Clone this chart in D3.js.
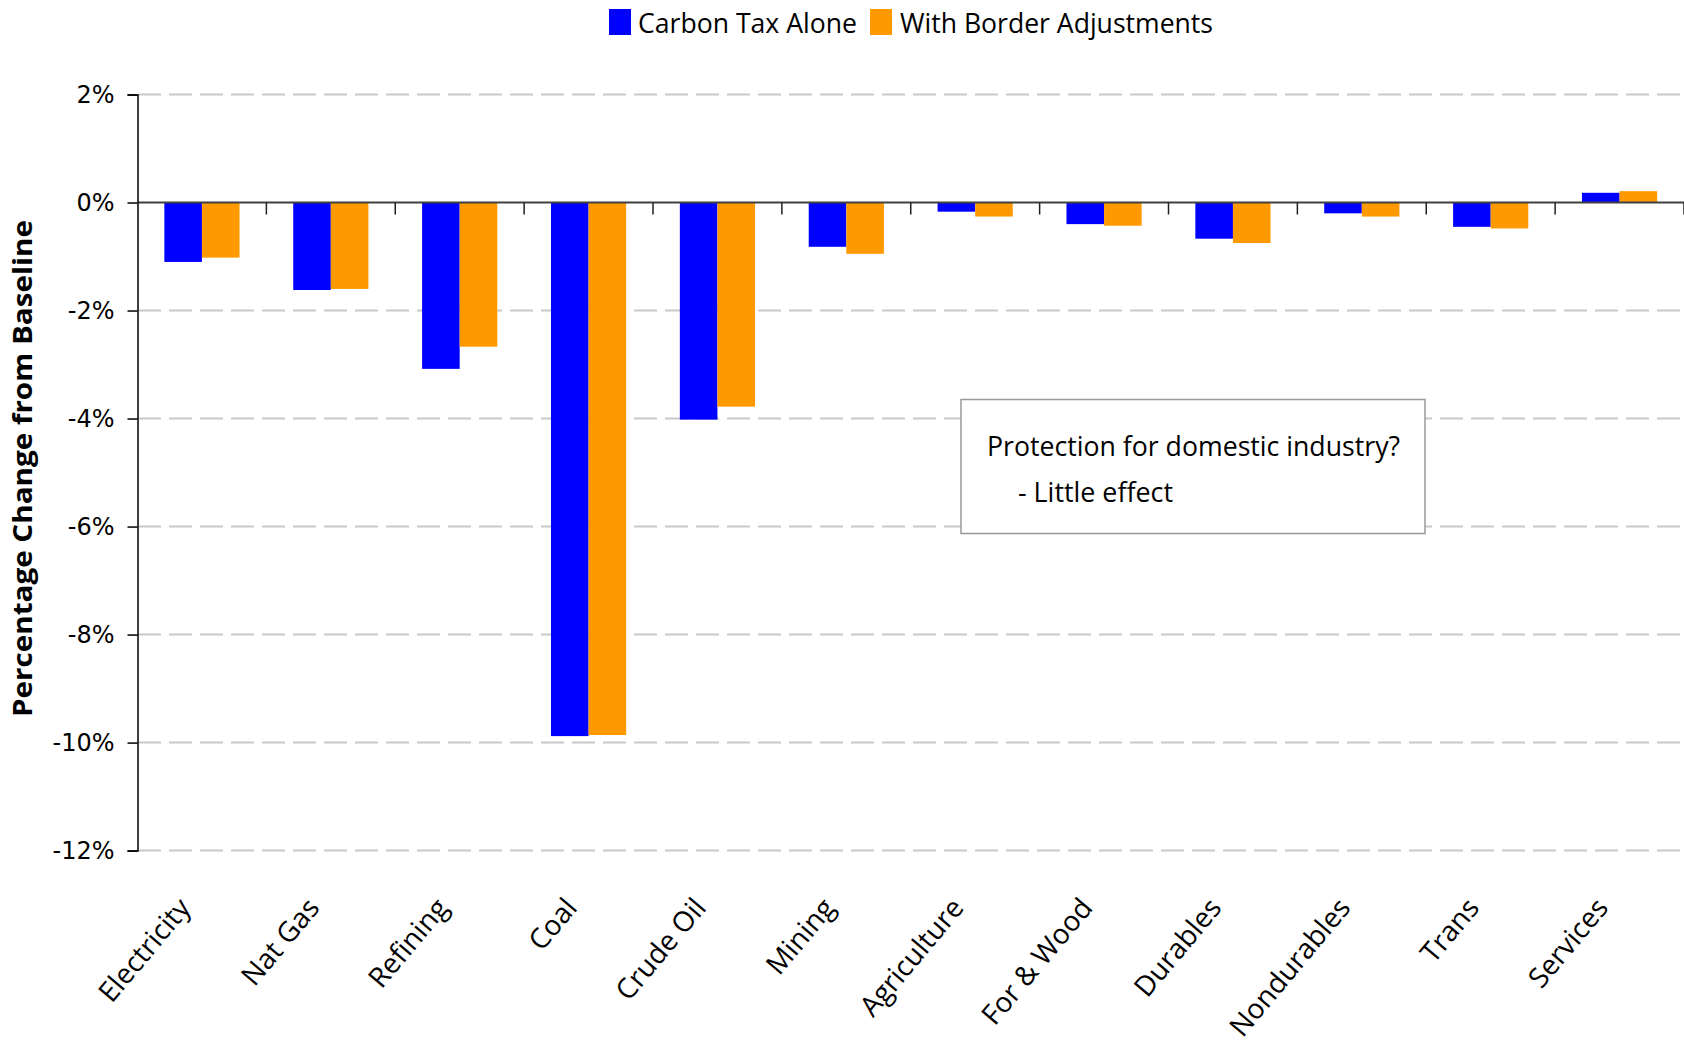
<!DOCTYPE html>
<html>
<head>
<meta charset="utf-8">
<script src="https://cdn.jsdelivr.net/npm/d3@7"></script>
<style>
  html, body { margin: 0; padding: 0; background: #ffffff; }
  svg { display: block; }
</style>
</head>
<body>
<svg id="chart" width="1684" height="1043"></svg>
<script>
const categories = ["Electricity", "Nat Gas", "Refining", "Coal", "Crude Oil", "Mining",
  "Agriculture", "For & Wood", "Durables", "Nondurables", "Trans", "Services"];
const seriesNames = ["Carbon Tax Alone", "With Border Adjustments"];
const carbonTaxAlone = [-1.10, -1.62, -3.08, -9.88, -4.02, -0.82, -0.17, -0.40, -0.67, -0.20, -0.45, 0.18];
const withBorderAdj = [-1.02, -1.60, -2.67, -9.86, -3.78, -0.95, -0.26, -0.43, -0.75, -0.26, -0.48, 0.21];
const yTickValues = [2, 0, -2, -4, -6, -8, -10, -12];
const colors = ["#0000ff", "#ff9900"];
const yTitle = "Percentage Change from Baseline";
const noteLines = ["Protection for domestic industry?", "- Little effect"];

const svg = d3.select("#chart");
const FONT = "'Open Sans', 'DejaVu Sans', sans-serif";

const x = d3.scaleBand().domain(categories).range([137.5, 1684]).paddingInner(0).paddingOuter(0);
const x1 = d3.scaleBand().domain(seriesNames).range([0, x.bandwidth()]).paddingInner(0).paddingOuter(0.714);
const y = d3.scaleLinear().domain([-12, 2]).range([850.6, 94.5]);

// gridlines
svg.append("g").selectAll("line").data(yTickValues.filter(d => d !== 0)).join("line")
  .attr("x1", 138).attr("x2", 1684)
  .attr("y1", d => y(d)).attr("y2", d => y(d))
  .attr("stroke", "#c8c8c8").attr("stroke-width", 2)
  .attr("stroke-dasharray", "23,8");

// bars
const rows = categories.map((c, i) => ({ c, vals: [carbonTaxAlone[i], withBorderAdj[i]] }));
const g = svg.append("g");
rows.forEach(r => {
  r.vals.forEach((v, j) => {
    g.append("rect")
      .attr("x", x(r.c) + x1(seriesNames[j]))
      .attr("width", x1.bandwidth())
      .attr("y", y(Math.max(0, v)))
      .attr("height", Math.abs(y(v) - y(0)))
      .attr("fill", colors[j]);
  });
});

// zero line
svg.append("line").attr("x1", 138).attr("x2", 1684).attr("y1", y(0)).attr("y2", y(0))
  .attr("stroke", "#404040").attr("stroke-width", 2);
// category ticks
svg.append("g").selectAll("line").data(categories).join("line")
  .attr("x1", d => x(d) + x.step()).attr("x2", d => x(d) + x.step())
  .attr("y1", y(0)).attr("y2", y(0) + 12)
  .attr("stroke", "#202020").attr("stroke-width", 1.5);

// y axis
const yAxis = d3.axisLeft(y).tickValues(yTickValues).tickFormat(d => d + "%").tickSize(10).tickPadding(13);
const ya = svg.append("g").attr("transform", "translate(137.5,0)").call(yAxis);
ya.select(".domain").attr("stroke", "#000").attr("stroke-width", 1.5);
ya.selectAll(".tick line").attr("stroke", "#000").attr("stroke-width", 1.5);
ya.selectAll(".tick text").attr("font-family", "'DejaVu Sans', sans-serif").attr("font-size", 24).attr("fill", "#000");

// y title
svg.append("text")
  .attr("transform", `translate(32,${(220 + 717) / 2}) rotate(-90)`)
  .attr("text-anchor", "middle")
  .attr("font-family", FONT).attr("font-weight", "bold").attr("font-size", 27)
  .attr("textLength", 497).attr("lengthAdjust", "spacingAndGlyphs")
  .attr("fill", "#000")
  .text(yTitle);

// category labels
svg.append("g").selectAll("text").data(categories).join("text")
  .attr("transform", d => `translate(${x(d) + x.bandwidth() / 2 - 10},${y(0) + 706}) rotate(-50)`)
  .attr("text-anchor", "end")
  .attr("font-family", FONT).attr("font-size", 28)
  .attr("fill", "#000")
  .text(d => d);

// legend
const legendItems = [
  { name: seriesNames[0], color: colors[0], sx: 609, tx: 638, tw: 219 },
  { name: seriesNames[1], color: colors[1], sx: 870, tx: 900, tw: 313 }
];
const lg = svg.append("g");
legendItems.forEach(it => {
  lg.append("rect").attr("x", it.sx).attr("y", 9).attr("width", 22).attr("height", 26).attr("fill", it.color);
  lg.append("text").attr("x", it.tx).attr("y", 33)
    .attr("font-family", FONT).attr("font-size", 28)
    .attr("textLength", it.tw).attr("lengthAdjust", "spacingAndGlyphs")
    .attr("fill", "#000").text(it.name);
});

// annotation box
svg.append("rect").attr("x", 961).attr("y", 399.5).attr("width", 464).attr("height", 134)
  .attr("fill", "#fff").attr("stroke", "#999").attr("stroke-width", 1.5);
svg.append("text").attr("x", 987).attr("y", 456)
  .attr("font-family", FONT).attr("font-size", 28)
  .attr("textLength", 413).attr("lengthAdjust", "spacingAndGlyphs")
  .attr("fill", "#000").text(noteLines[0]);
svg.append("text").attr("x", 1018).attr("y", 502)
  .attr("font-family", FONT).attr("font-size", 28)
  .attr("textLength", 155).attr("lengthAdjust", "spacingAndGlyphs")
  .attr("fill", "#000").text(noteLines[1]);
</script>
</body>
</html>
